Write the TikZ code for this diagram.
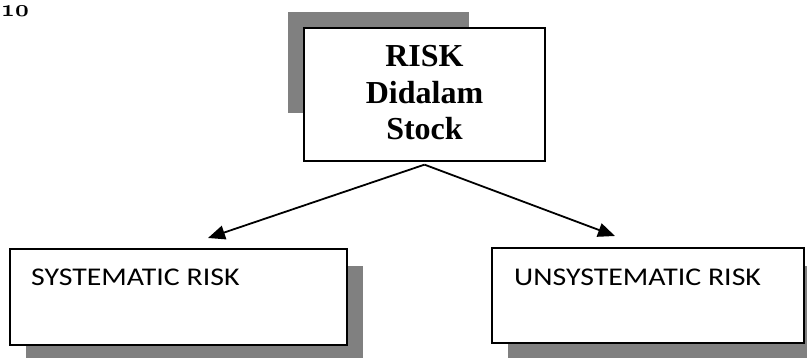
\documentclass[tikz,border=0pt]{standalone}
\usepackage{fontspec}
\setmainfont{Liberation Serif}
\newfontfamily\calibri[FakeStretch=1.17]{Carlito}
\usepackage{xcolor}
\usepackage{tikz}
\usetikzlibrary{arrows.meta,calc,positioning}

\begin{document}
\begin{tikzpicture}[x=1pt,y=-1pt,
  kotak/.style={draw,line width=1.3pt,fill=white,inner sep=0pt},
  bayang/.style={fill=gray,draw=none},
  label kecil/.style={anchor=base west,inner sep=0pt,font=\calibri\fontsize{25.5}{30}\selectfont},
  panah/.style={line width=1.8pt,-{Triangle[length=17pt,width=14pt]}}]
\useasboundingbox (0,0) rectangle (807,358);
% page number
\node [anchor=base west,inner sep=0pt] (hal) at (1,17) {\scalebox{2.4}{\usefont{OML}{cmm}{b}{it}10}};
% shadows behind the boxes
\fill [bayang] (288,12) rectangle (469,113);
\fill [bayang] (26,266) rectangle (363,358);
\fill [bayang] (508,266) rectangle (820,358);
% boxes
\node [kotak,minimum width=241pt,minimum height=133pt] (risk) at (424.5,94.5) {};
\node [kotak,minimum width=337pt,minimum height=96pt] (sys) at (178.5,297) {};
\node [kotak,minimum width=312pt,minimum height=95pt] (unsys) at (648,295.5) {};
%\draw [red] (risk.north west) -- (risk.south east);
\node [align=center,inner sep=0pt,font=\bfseries\fontsize{32}{36.5}\selectfont] (judul) at (424.5,93) {RISK\\Didalam\\Stock};
\node [label kecil] (sysT) at (31,285.5) {SYSTEMATIC RISK};
\node [label kecil] (unsysT) at (514,286) {UNSYSTEMATIC RISK};
% arrows
\coordinate (cabang) at ($(risk.south)+(0,3)$);
\coordinate (kiri) at (208,238);
\coordinate (kanan) at (615,236);
\draw [panah] (cabang) -- (kiri);
\draw [panah] (cabang) -- (kanan);
\end{tikzpicture}
\end{document}
